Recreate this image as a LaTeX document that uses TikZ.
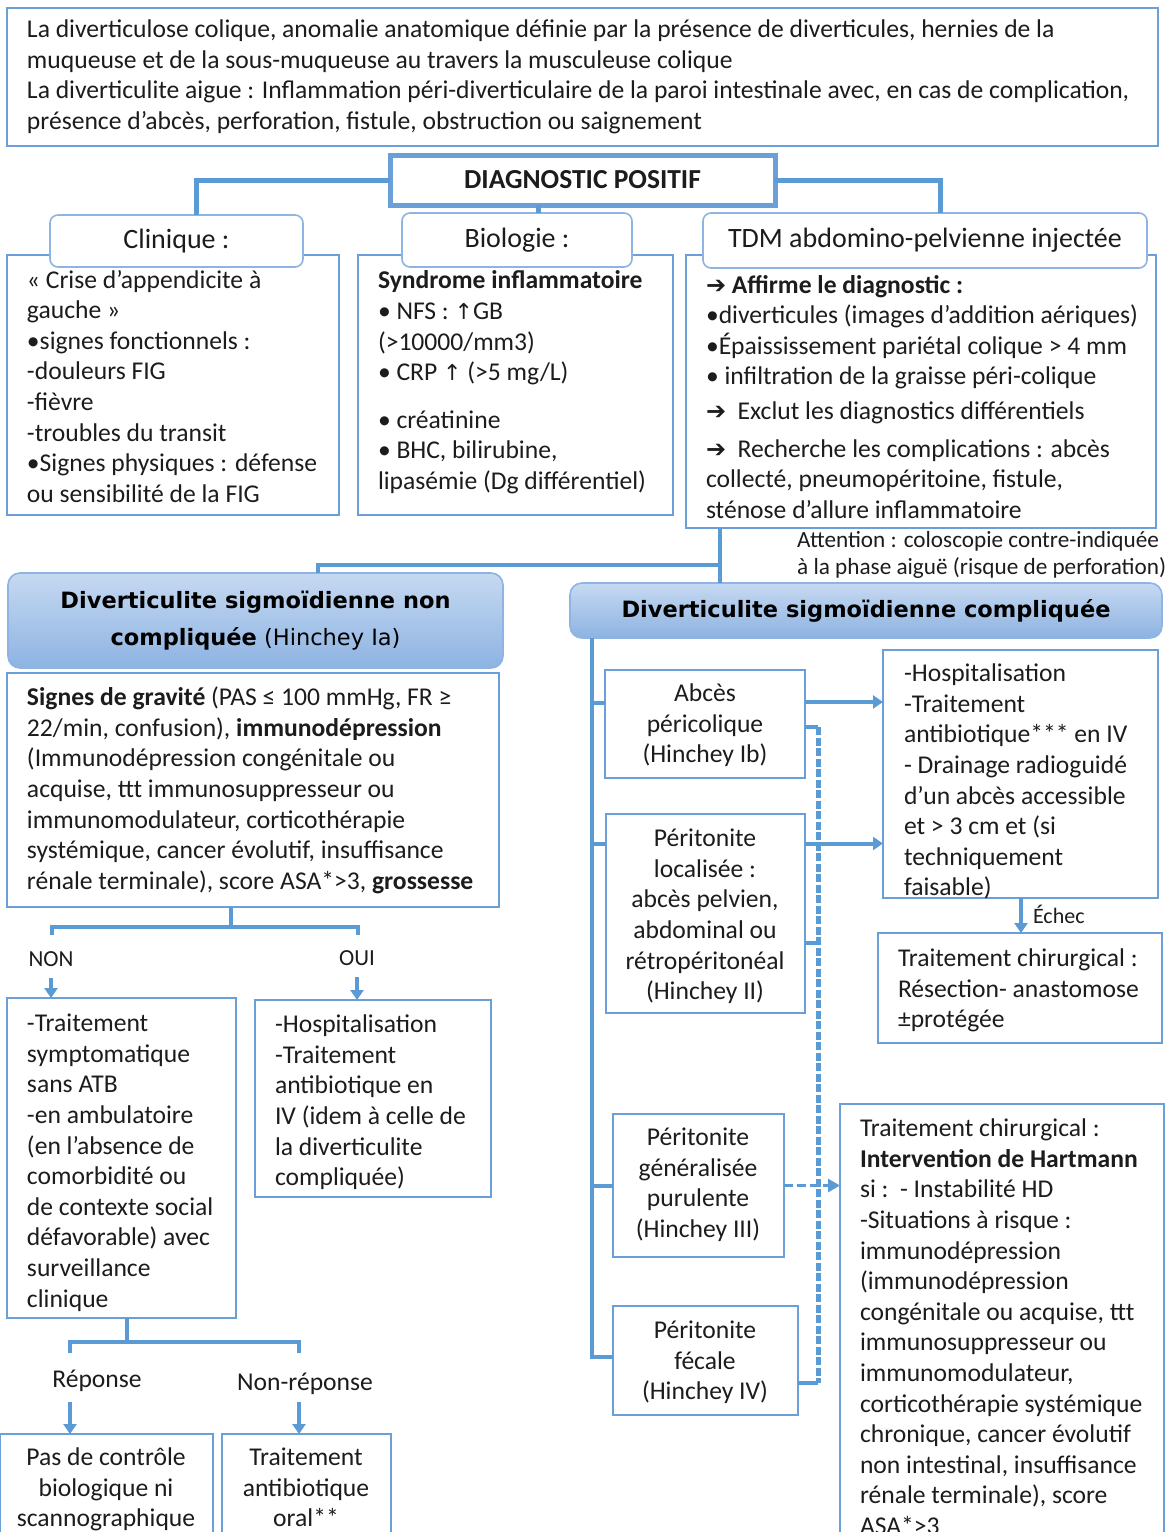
\documentclass[tikz,border=0pt]{standalone}
\usepackage{fontspec}
\setmainfont{Carlito}
\newfontfamily\dvs{DejaVu Sans}
\usetikzlibrary{arrows.meta}
\definecolor{ln}{HTML}{5B9BD5}
\definecolor{bxc}{HTML}{6A9FD8}
\definecolor{hdc}{HTML}{8DB4E2}
\definecolor{ink}{HTML}{1C1C1C}
\definecolor{gtop}{HTML}{C6D9F1}
\definecolor{gbot}{HTML}{8DB3E2}
\newcommand\fb{\fontsize{25.6}{30.6}\selectfont}
\newcommand\fhb{\fontsize{28}{30.6}\selectfont}
\newcommand\fsm{\fontsize{23.2}{27}\selectfont}
\newcommand\fhd{\fontsize{22.5}{37}\selectfont}
\newcommand\rar{{\dvs\fontsize{24}{24}\selectfont ➔}}
\newcommand\uar{{\dvs\fontsize{22}{22}\selectfont ↑}}
\begin{document}
\begin{tikzpicture}[x=1pt,y=-1pt,
  bx/.style={draw=bxc,line width=1.6pt,fill=white,inner sep=0,outer sep=0,anchor=north west},
  hd/.style={draw=hdc,line width=1.6pt,fill=white,rounded corners=8pt,inner sep=0,outer sep=0,font=\fhb,text=ink},
  gh/.style={draw=hdc,line width=1.6pt,rounded corners=12pt,top color=gtop,bottom color=gbot,inner sep=0,outer sep=0,font=\dvs\fhd,text=black,align=center},
  tx/.style={anchor=north west,align=left,inner sep=0,outer sep=0,font=\fb,text=ink},
  ctx/.style={anchor=north,align=center,inner sep=0,outer sep=0,font=\fb,text=ink},
  lab/.style={anchor=base,inner sep=0,outer sep=0,font=\fb,text=ink},
  conn/.style={draw=ln,line width=4pt},
  heavy/.style={draw=ln,line width=5pt},
  arr/.style={draw=ln,line width=4pt,-{Triangle[length=10pt,width=13pt]}},
  bus/.style={draw=ln,line width=5pt,dash pattern=on 8pt off 2.5pt},
  darr/.style={draw=ln,line width=3.5pt,dash pattern=on 9pt off 4pt,-{Triangle[length=12pt,width=13pt]}}
]
\useasboundingbox (0,0) rectangle (1165,1532);
\fill[white] (0,0) rectangle (1165,1532);

% definitions at the top
\node[bx,minimum width=1151,minimum height=138] (intro) at (7,8) {};
\node[tx] (introtxt) at (27,20) {La diverticulose colique, anomalie anatomique définie par la présence de diverticules, hernies de la\\muqueuse et de la sous-muqueuse au travers la musculeuse colique\\La diverticulite aigue : Inflammation péri-diverticulaire de la paroi intestinale avec, en cas de complication,\\présence d’abcès, perforation, fistule, obstruction ou saignement};

% positive diagnosis
\node[bx,line width=5pt,minimum width=385,minimum height=50,font=\fontsize{27.5}{30}\selectfont\bfseries,text=ink] (diag) at (390,155) {DIAGNOSTIC POSITIF};

% three content boxes
\node[bx,minimum width=332,minimum height=260] (clin) at (7,255) {};
\node[tx] (clint) at (27,270) {« Crise d'appendicite à\\gauche »\\•signes fonctionnels :\\-douleurs FIG\\-fièvre\\-troubles du transit\\•Signes physiques : défense\\ou sensibilité de la FIG};

\node[bx,minimum width=315,minimum height=260] (bio) at (358,255) {};
\node[tx] (biot) at (378,271) {\textbf{Syndrome inflammatoire}\\• NFS : \uar GB\\(>10000/mm3)\\• CRP \uar\ (>5 mg/L)\\[17pt]• créatinine\\• BHC, bilirubine,\\lipasémie (Dg différentiel)};

\node[bx,minimum width=470,minimum height=273] (tdm) at (686,255) {};
\node[tx] (tdmt) at (706,275) {\rar\ \textbf{Affirme le diagnostic :}\\•diverticules (images d'addition aériques)\\•Épaississement pariétal colique > 4 mm\\• infiltration de la graisse péri-colique\\[4.5pt]\rar\ \ Exclut les diagnostics différentiels\\[6.5pt]\rar\ \ Recherche les complications : abcès\\collecté, pneumopéritoine, fistule,\\sténose d'allure inflammatoire};

% headers of the three boxes
\node[hd,minimum width=253,minimum height=52] (clinh) at (176.5,241) {Clinique :};
\node[hd,minimum width=230,minimum height=54] (bioh) at (517,240) {Biologie :};
\node[hd,minimum width=444,minimum height=55] (tdmh) at (925,240.5) {TDM abdomino-pelvienne injectée};

\draw[heavy] (diag.west) -| ([xshift=20]clinh.north);
\draw[heavy] (diag.east) -| ([xshift=15]tdmh.north);
\draw[heavy] ([xshift=-44.5]diag.south) -- ([xshift=-44.5]diag.south |- bioh.north);

% split towards the two forms
\node[anchor=base west,align=left,inner sep=0,font=\fsm,text=ink] (attn) at (797,574) {Attention : coloscopie contre-indiquée\\à la phase aiguë (risque de perforation)};

\node[gh,minimum width=495,minimum height=95] (nch) at (255.5,620.5) {\textbf{Diverticulite sigmoïdienne non}\\\textbf{compliquée} (Hinchey Ia)};
\node[gh,minimum width=592,minimum height=55] (comph) at (866,610.5) {\textbf{Diverticulite sigmoïdienne compliquée}};

\coordinate (j1) at (720,565);
\coordinate (j2) at (318,565);
\draw[conn] (tdm.south -| j1) -- (comph.north -| j1);
\draw[conn] (j1) -- (j2) -- (nch.north -| j2);

% uncomplicated branch
\node[bx,minimum width=492,minimum height=234] (ncc) at (7,673) {};
\node[tx] (ncct) at (27,687) {\textbf{Signes de gravité} (PAS ≤ 100 mmHg, FR ≥\\22/min, confusion), \textbf{immunodépression}\\(Immunodépression congénitale ou\\acquise, ttt immunosuppresseur ou\\immunomodulateur, corticothérapie\\systémique, cancer évolutif, insuffisance\\rénale terminale), score ASA*>3, \textbf{grossesse}};

\coordinate (g0) at (231,927);
\coordinate (gl) at (52,927);
\coordinate (gr) at (358,927);
\coordinate (glt) at (52,935);
\coordinate (grt) at (358,935);
\draw[conn] (ncc.south -| g0) -- (g0);
\draw[conn] (glt) -- (gl) -- (gr) -- (grt);
\node[lab,font=\fontsize{23}{27}\selectfont] (non) at (51,966) {NON};
\node[lab,font=\fontsize{23}{27}\selectfont] (oui) at (357,965) {OUI};

\node[bx,minimum width=229,minimum height=320] (nonb) at (7,998) {};
\node[tx] (nont) at (27,1014) {-Traitement\\symptomatique\\sans ATB\\-en ambulatoire\\(en l’absence de\\comorbidité ou\\de contexte social\\défavorable) avec\\surveillance\\clinique};
\node[bx,minimum width=236,minimum height=197] (ouib) at (255,1000) {};
\node[tx] (ouit) at (275,1015) {-Hospitalisation\\-Traitement\\antibiotique en\\IV (idem à celle de\\la diverticulite\\compliquée)};

\draw[arr] ([yshift=-12]non.base) -- (nonb.north -| non.base);
\draw[arr] ([yshift=-12]oui.base) -- (ouib.north -| oui.base);

\coordinate (r0) at (127,1342);
\coordinate (rl) at (70,1342);
\coordinate (rr) at (299,1342);
\coordinate (rlt) at (70,1353);
\coordinate (rrt) at (299,1353);
\draw[conn] (nonb.south -| r0) -- (r0);
\draw[conn] (rlt) -- (rl) -- (rr) -- (rrt);
\node[lab] (rep) at (97,1387) {Réponse};
\node[lab] (nrep) at (305,1390) {Non-réponse};

\node[bx,minimum width=213,minimum height=130] (repb) at (0,1434) {};
\node[ctx] (rept) at (106,1448) {Pas de contrôle\\biologique ni\\scannographique};
\node[bx,minimum width=169,minimum height=130] (nrepb) at (222,1434) {};
\node[ctx] (nrept) at (306,1448) {Traitement\\antibiotique\\oral**};
\draw[arr] (rep.base -| rl) ++(0,15) -- (repb.north -| rl);
\draw[arr] (nrep.base -| rr) ++(0,12) -- (nrepb.north -| rr);

% complicated branch
\node[bx,minimum width=200,minimum height=108] (abc) at (605,670) {};
\node[ctx] (abct) at (705,684) {Abcès\\péricolique\\(Hinchey Ib)};
\node[bx,minimum width=199,minimum height=199] (loc) at (606,814) {};
\node[ctx] (loct) at (705,829) {Péritonite\\localisée :\\abcès pelvien,\\abdominal ou\\rétropéritonéal\\(Hinchey II)};
\node[bx,minimum width=171,minimum height=143] (gen) at (613,1114) {};
\node[ctx] (gent) at (698,1128) {Péritonite\\généralisée\\purulente\\(Hinchey III)};
\node[bx,minimum width=185,minimum height=109] (fec) at (613,1306) {};
\node[ctx] (fect) at (705,1321) {Péritonite\\fécale\\(Hinchey IV)};

\coordinate (vm) at (592,1357);
\draw[conn] (comph.south -| vm) -- (vm) -- (fec.west |- vm);
\draw[conn] ([yshift=21]abc.west -| vm) -- ([yshift=21]abc.west);
\draw[conn] ([yshift=70]loc.west -| vm) -- ([yshift=70]loc.west);
\draw[conn] (gen.west -| vm) -- (gen.west);

\node[bx,minimum width=275,minimum height=248] (hosp) at (883,650) {};
\node[tx] (hospt) at (904,664) {-Hospitalisation\\-Traitement\\antibiotique*** en IV\\- Drainage radioguidé\\d’un abcès accessible\\et > 3 cm et (si\\techniquement\\faisable)};
\node[bx,minimum width=284,minimum height=110] (chir) at (878,933) {};
\node[tx] (chirt) at (898,949) {Traitement chirurgical :\\Résection- anastomose\\±protégée};
\node[bx,minimum width=324,minimum height=440] (hart) at (840,1104) {};
\node[tx] (hartt) at (860,1119) {Traitement chirurgical :\\\textbf{Intervention de Hartmann}\\si :\ \ - Instabilité HD\\-Situations à risque :\\immunodépression\\(immunodépression\\congénitale ou acquise, ttt\\immunosuppresseur ou\\immunomodulateur,\\corticothérapie systémique\\chronique, cancer évolutif\\non intestinal, insuffisance\\rénale terminale), score\\ASA*>3};

\draw[arr] ([yshift=22]abc.east) -- ([yshift=22]abc.east -| hosp.west);
\draw[arr] ([yshift=70]loc.east) -- ([yshift=70]loc.east -| hosp.west);

\coordinate (ech) at (1021,898);
\draw[arr] (ech) -- (ech |- chir.north);
\node[lab,anchor=base west,font=\fontsize{22}{27}\selectfont] (echt) at (1033,923) {Échec};

% dashed bundle towards Hartmann
\coordinate (d1) at (818,727);
\coordinate (d2) at (818,943);
\coordinate (d3) at (818,1383);
\draw[bus] (d1) -- (d3);
\draw[conn] (abc.east |- d1) -- (d1);
\draw[conn] (loc.east |- d2) -- (d2);
\draw[conn] (fec.east |- d3) -- (d3);
\draw[darr] (gen.east) -- (gen.east -| hart.west);
\end{tikzpicture}
\end{document}
